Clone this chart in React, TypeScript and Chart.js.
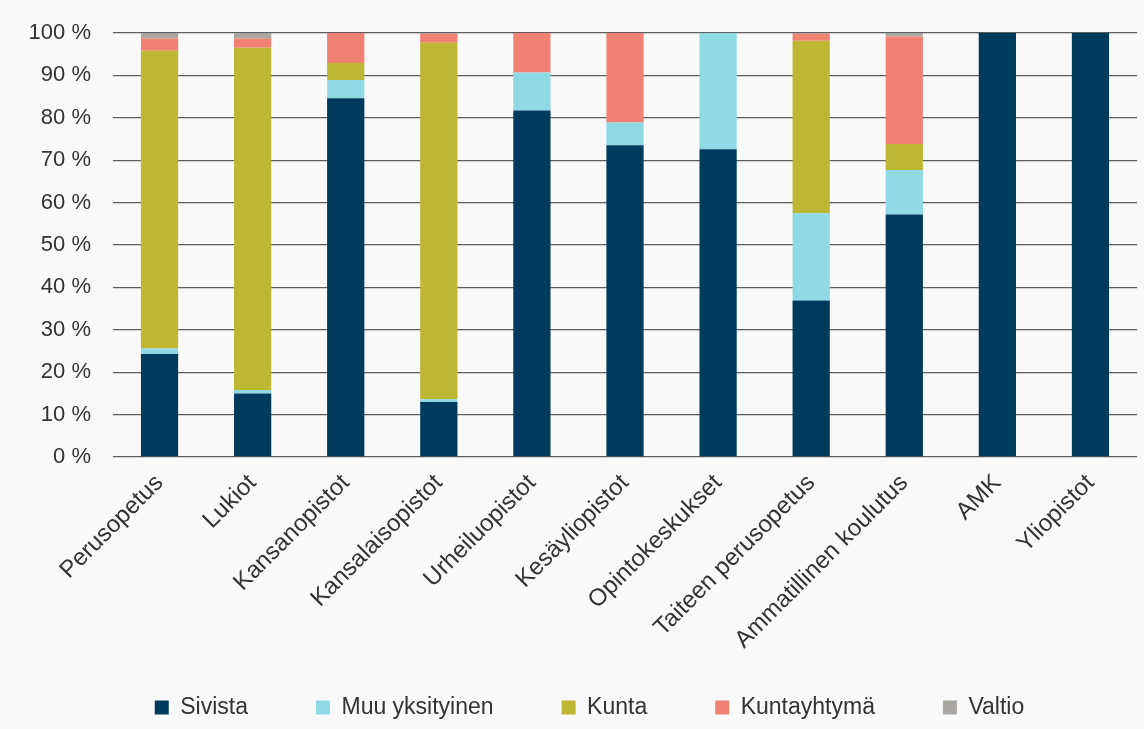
import React, { useEffect, useRef } from "react";
import { Chart, registerables } from "chart.js";

Chart.register(...registerables);

const categories = [
  "Perusopetus",
  "Lukiot",
  "Kansanopistot",
  "Kansalaisopistot",
  "Urheiluopistot",
  "Kesäyliopistot",
  "Opintokeskukset",
  "Taiteen perusopetus",
  "Ammatillinen koulutus",
  "AMK",
  "Yliopistot",
];

const sivista = [24.3, 15.0, 84.6, 13.0, 81.7, 73.5, 72.6, 36.9, 57.2, 100, 100];
const muuYksityinen = [1.3, 0.8, 4.3, 0.6, 9.0, 5.4, 27.4, 20.6, 10.5, 0, 0];
const kunta = [70.2, 80.7, 4.0, 84.1, 0, 0, 0, 40.7, 6.1, 0, 0];
const kuntayhtyma = [2.9, 2.2, 7.1, 2.1, 9.3, 21.1, 0, 1.6, 25.4, 0, 0];
const valtio = [1.3, 1.3, 0, 0.2, 0, 0, 0, 0.2, 0.8, 0, 0];

const yTicks = [0, 10, 20, 30, 40, 50, 60, 70, 80, 90, 100];

const FONT = "'Liberation Sans', Arial, sans-serif";
const TEXT = "#333333";

const bgPlugin = {
  id: "bg",
  beforeDraw(chart: any) {
    const ctx = chart.ctx;
    ctx.save();
    ctx.fillStyle = "#f9f9f9";
    ctx.fillRect(0, 0, chart.width, chart.height);
    ctx.restore();
  },
};

const layoutTweak = {
  id: "layoutTweak",
  afterLayout(chart: any) {
    const lg = chart.legend;
    if (lg) {
      lg.left += 21;
      lg.right += 21;
    }
    const xs = chart.scales.x;
    if (xs) {
      xs.bottom = chart.height;
    }
  },
};

export default function App() {
  const ref = useRef<HTMLCanvasElement | null>(null);
  useEffect(() => {
    if (!ref.current) return;
    const mk = (label: string, data: number[], color: string) => ({
      label,
      data,
      backgroundColor: color,
      borderWidth: 0,
      barPercentage: 0.5,
      categoryPercentage: 0.8,
    });
    const chart = new Chart(ref.current, {
      type: "bar",
      data: {
        labels: categories,
        datasets: [
          mk("Sivista", sivista, "#003a5c"),
          mk("Muu yksityinen", muuYksityinen, "#8fd9e5"),
          mk("Kunta", kunta, "#bdb733"),
          mk("Kuntayhtymä", kuntayhtyma, "#f08173"),
          mk("Valtio", valtio, "#a9a5a1"),
        ],
      },
      options: {
        animation: false,
        responsive: false,
        maintainAspectRatio: false,
        layout: { padding: { top: 33, right: 7, left: 0, bottom: 0 } },
        plugins: {
          tooltip: { enabled: false },
          legend: {
            position: "bottom",
            labels: {
              boxWidth: 14,
              boxHeight: 14,
              padding: 68,
              color: TEXT,
              font: { family: FONT, size: 23 },
            },
          },
        },
        scales: {
          x: {
            stacked: true,
            grid: { display: false },
            border: { display: false },
            ticks: {
              color: TEXT,
              font: { family: FONT, size: 24 },
              minRotation: 45,
              maxRotation: 45,
              padding: 4,
            },
            afterFit: (s: any) => {
              s.height = 171;
            },
          },
          y: {
            stacked: true,
            min: 0,
            max: 100,
            afterBuildTicks: (s: any) => {
              s.ticks = yTicks.map((v) => ({ value: v }));
            },
            grid: { color: "#5e5e5e", lineWidth: 1.3, drawTicks: false },
            border: { display: false },
            ticks: {
              color: TEXT,
              font: { family: FONT, size: 22 },
              padding: 22,
              callback: (v: any) => v + " %",
            },
            afterFit: (s: any) => {
              s.width = 113;
              s.paddingTop = 10;
              s.paddingBottom = 10;
            },
          },
        },
      },
      plugins: [bgPlugin, layoutTweak],
    });
    return () => chart.destroy();
  }, []);
  return (
    <div style={{ position: "fixed", left: 0, top: 0, width: 1144, height: 729, background: "#f9f9f9" }}>
      <canvas ref={ref} width={1144} height={729} style={{ width: 1144, height: 729 }} />
    </div>
  );
}
